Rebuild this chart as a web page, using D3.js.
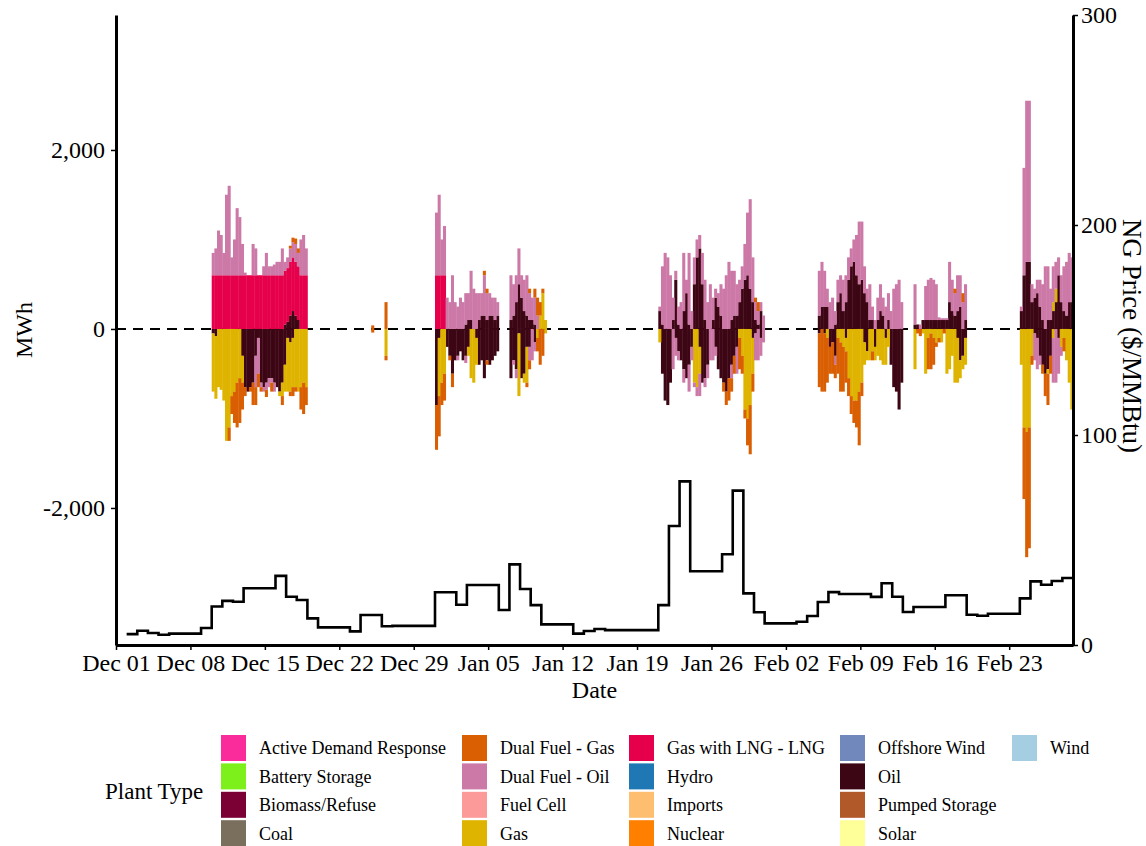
<!DOCTYPE html>
<html><head><meta charset="utf-8">
<script src="https://cdn.jsdelivr.net/npm/d3@7"></script>
<style>
body{margin:0;background:#fff}
svg{display:block}
text{font-family:"Liberation Serif","Times New Roman",serif;fill:#000}
</style>
</head><body>
<svg id="chart" width="1146" height="846"></svg>
<script>
// ---------------- DATA ----------------
// 6-hour bars; each series holds one sub-array per active block (order of blockStarts)
const blockStarts = ["2024-12-10","2024-12-25","2024-12-31","2025-01-21","2025-02-05","2025-02-14","2025-02-24"];
const blockLengths = [36, 6, 42, 40, 32, 20, 20];
const stepHours = 6;

const lngPos = [
  [600,600,600,600,600,600, 600,600,600,600,600,600, 600,600,600,600,600,600, 600,600,600,600,600,600, 600,600,600,600,600,600, 600,600,600,600,600,600],
  [],
  [600,600,600,600],
  [], [], [], []
];
const oilPos = [
  [0,0,0,0,0,0,0,0,0,0,0,0,0,0,0,0,0,0,0,0,0,0,0,0,0,0,0,50,80,150,200,150,100,0,0,0],
  [],
  [0,0,0,0,0,0,0,0,0,0,0,50,100,100,0,0,100,150,150,100,150,150,100,150,0,0,0,0,100,150,300,500,350,200,150,100,100,50,0,0,0,0],
  [200,50,0,0,0,100,550,50,0,200,400,50,0,500,800,900,500,100,0,0,100,350,250,150,0,0,0,100,150,150,300,450,550,600,450,300,100,50,200,0],
  [150,250,250,250,0,0,50,300,400,200,300,550,700,750,600,500,550,400,300,100,100,0,100,200,150,0,100,0,0,0,0,0],
  [50,50,0,100,100,100,100,100,100,100,100,100,100,300,200,150,200,250,0,100],
  [200,600,750,750,300,350,400,250,100,0,100,100,200,300,600,300,200,150,300,300]
];
const gasPos = [
  [], [],
  [0,0,0,0,0,0,0,0,0,0,0,0,0,0,0,0,0,0,0,0,0,0,0,0,0,0,0,0,0,0,0,0,0,0,0,0,0,0,0,150,400,100],
  [], [], [],
  [0,0,0,0,0,0,0,0,0,0,0,0,100,150]
];
const dfoPos = [
  [250,300,500,450,250,900,1000,200,400,750,650,350,30,0,0,350,300,0,0,100,250,100,100,120,150,150,300,100,120,150,170,200,150,400,450,300],
  [],
  [700,900,400,550,350,300,600,300,250,350,300,350,300,550,450,400,300,250,450,300,250,200,250,150,0,0,0,0,500,350,300,400,250,350,450,300,250,300,150,0,0,0],
  [50,650,850,800,600,250,100,200,300,650,150,800,200,300,200,150,350,450,300,500,250,100,150,350,450,600,750,550,500,350,250,250,400,700,1000,500,200,150,100,150],
  [500,500,400,200,300,350,150,250,200,350,300,250,200,250,450,700,650,300,150,400,150,100,250,300,200,250,300,200,450,500,550,300],
  [450,0,50,0,380,450,470,450,400,30,20,20,20,450,350,250,400,350,300,400],
  [50,1200,1800,1800,200,100,150,300,400,700,600,350,400,300,200,300,500,600,550,500]
];
const dfgPos = [
  [0,0,0,0,0,0,0,0,0,0,0,0,0,0,0,0,0,0,0,0,0,0,0,0,0,0,0,0,0,30,50,60,50,0,0,0],
  [40,0,0,0,0,300],
  [0,0,0,0,0,0,0,0,0,0,0,0,0,0,0,0,0,0,50,50,0,0,0,0,0,0,0,0,0,0,0,0,0,0,0,50,0,100,200,150,50,0],
  [0,0,0,0,0,0,0,0,0,0,0,0,0,0,0,0,0,0,0,0,0,0,0,0,0,0,0,0,0,0,0,0,0,0,0,0,50,100,0,0],
  [],
  [0,0,0,0,0,0,0,0,0,0,0,0,0,0,0,50,0,0,100,0],
  []
];
const oilNeg = [
  [-50,-80,0,0,0,0,0,0,0,0,0,-300,-650,-700,-650,-600,-300,-100,-600,-650,-600,-550,-550,-600,-650,-700,-600,-400,-100,-150,-100,0,0,0,0,0],
  [],
  [-850,-100,0,0,-200,-300,-500,-350,-300,-250,-350,-300,-200,0,0,-100,-400,-350,-550,-350,-400,-350,-300,-250,0,0,0,0,-550,-350,-450,-50,-550,-500,-200,-200,0,-150,0,0,0,0],
  [0,-500,-800,-850,-600,0,-100,-250,-350,-450,-550,-400,-200,0,0,-200,-600,-550,-400,0,0,-200,-450,-550,-600,-700,-550,-400,-300,-200,0,0,0,0,0,-100,-50,0,-100,0],
  [-50,0,-50,0,-200,-150,-300,0,0,0,-100,0,0,0,0,0,0,-150,-250,0,0,-200,0,0,0,-100,0,-400,-650,-700,-900,-600],
  [0,0,0,0,0,0,0,0,0,0,0,0,0,0,0,0,-100,-350,-300,-100],
  [0,0,0,0,0,-50,-100,-300,-400,-500,-450,-300,0,0,-100,0,0,0,0,0]
];
const gasNeg = [
  [-650,-700,-650,-680,-800,-1250,-1100,-750,-700,-600,-550,-300,0,0,0,0,0,0,0,0,0,0,0,0,0,-50,-150,-300,-600,-550,-550,-650,-700,-650,-600,-650],
  [0,0,0,0,0,-300],
  [0,-650,-600,-500,0,0,0,0,0,0,0,0,-100,-550,-600,-300,0,0,0,0,0,0,0,0,0,0,0,0,0,0,0,-700,0,-100,-400,0,0,0,-100,0,0,-50],
  [-150,0,0,0,0,0,0,0,0,0,0,0,0,-600,-650,-300,0,0,0,0,0,0,0,0,0,0,0,0,0,0,-100,-300,-900,-1000,-850,-400,0,0,0,0],
  [0,0,0,-100,0,0,0,-100,-150,-200,-150,-550,-750,-800,-800,-700,-600,-250,-100,-350,-250,-150,-300,-350,-400,-300,-200,0,0,0,0,0],
  [-450,0,0,-50,-500,-100,-50,-100,-150,-100,-150,0,-500,-450,-300,-600,-500,-200,-150,-300],
  [-400,-1100,-1150,-1100,-300,0,0,0,0,0,-50,0,-100,0,0,-200,-100,-350,-600,-900]
];
const dfoNeg = [
  [0,0,0,0,0,0,0,0,0,0,0,0,0,0,0,0,-350,-400,-50,-50,-80,-100,-50,-100,0,0,0,0,0,0,0,0,0,0,0,0],
  [],
  [0,0,0,0,0,0,0,0,-50,0,0,-80,0,0,0,0,0,0,0,0,0,0,0,0,0,0,0,0,0,-50,-100,0,0,0,0,-150,-350,-100,0,0,0,0],
  [0,0,0,0,0,-450,-200,-100,0,-150,0,-300,-150,-50,-100,-250,0,-100,-150,-350,-350,-100,0,0,0,0,0,-150,0,-300,0,0,0,0,0,0,-300,-350,-200,-150],
  [0,0,0,0,0,0,-100],
  [],
  [0,0,0,0,0,-300,-350,-100,0,0,0,0,-500,-600,-400,-100,0,0,0,0]
];
const dfgNeg = [
  [0,0,0,0,0,0,-150,-200,-350,-500,-500,-300,-100,0,-50,-250,-200,-150,-50,0,-80,0,-100,0,0,0,-100,0,0,-50,-100,-50,0,-250,-350,-200],
  [-40,0,0,0,0,-50],
  [-500,-450,-250,-300,0,-50,-150,0,0,0,0,0,0,0,0,0,0,0,0,-50,0,0,0,0,0,0,0,0,0,0,0,0,0,0,-50,-100,0,0,-150,-400,-300,0],
  [0,0,0,0,0,0,0,0,0,0,0,0,0,0,0,0,0,0,0,0,0,0,0,0,-100,-150,-250,-150,-200,0,-350,-200,-100,-300,-550,-200,0,0,0,0],
  [-600,-700,-650,-500,-300,-350,-150,-400,-550,-500,-350,-200,-200,-250,-300,-600,-150,0,0,0,-100],
  [0,-50,-80,0,0,-350,-400,-300,-50,-50,0,-50],
  [0,-800,-1400,-1350,-100,0,0,0,-100,-250,-350,-200,0,0,0,0,-150,0,0,0]
];

// daily NG price ($/MMBtu), starting 2024-12-02
const priceStart = "2024-12-02";
const priceValues = [
  5.2,6.8,5.7,4.9,5.4,5.4,5.4,
  8.1,18.3,21.0,20.6,27.0,27.0,27.0,
  32.9,23.0,21.4,12.7,8.4,8.4,8.4,
  6.5,14.3,14.3,8.9,9.1,9.1,9.1,
  9.1,25.1,25.1,19.2,28.6,28.6,28.6,
  16.7,38.4,26.7,19.0,9.8,9.8,9.8,
  5.4,6.7,7.6,7.1,7.1,7.1,7.1,
  7.1,19.0,56.7,77.9,35.1,35.1,35.1,
  43.2,73.5,24.6,15.6,10.3,10.3,10.3,
  11.1,13.8,20.5,25.2,24.3,24.3,24.3,
  22.9,29.4,23.0,15.7,18.1,18.1,18.1,
  23.7,23.7,14.4,13.9,14.9,14.9,14.9,
  22.2,30.3,28.7,30.5,31.9
];

const weekTicks = ["2024-12-01","2024-12-08","2024-12-15","2024-12-22","2024-12-29","2025-01-05","2025-01-12","2025-01-19","2025-01-26","2025-02-02","2025-02-09","2025-02-16","2025-02-23"];
const mwhTicks = [-2000, 0, 2000];
const priceTicks = [0, 100, 200, 300];

const legendNames = ["Active Demand Response","Battery Storage","Biomass/Refuse","Coal",
  "Dual Fuel - Gas","Dual Fuel - Oil","Fuel Cell","Gas",
  "Gas with LNG - LNG","Hydro","Imports","Nuclear",
  "Offshore Wind","Oil","Pumped Storage","Solar","Wind"];
const legendColors = ["#fa2c9c","#7def1b","#7b0034","#7a6e5c",
  "#d95f02","#cc79a7","#fb9a99","#deb400",
  "#e6004c","#1f78b4","#fdbf6f","#ff7f00",
  "#7088bb","#3d0614","#b15928","#ffff99","#a6cee3"];

// series -> stacking (diverging: positives from 0 up, negatives from 0 down, in this order)
const seriesDefs = [
  {key:"oilPos", arr:oilPos, name:"Oil"},
  {key:"oilNeg", arr:oilNeg, name:"Oil"},
  {key:"lngPos", arr:lngPos, name:"Gas with LNG - LNG"},
  {key:"gasPos", arr:gasPos, name:"Gas"},
  {key:"gasNeg", arr:gasNeg, name:"Gas"},
  {key:"dfoPos", arr:dfoPos, name:"Dual Fuel - Oil"},
  {key:"dfoNeg", arr:dfoNeg, name:"Dual Fuel - Oil"},
  {key:"dfgPos", arr:dfgPos, name:"Dual Fuel - Gas"},
  {key:"dfgNeg", arr:dfgNeg, name:"Dual Fuel - Gas"}
];

// ---------------- CHART ----------------
const svg = d3.select("#chart");
const P = {left:116, right:1073, top:15, bottom:645};
const parse = d3.utcParse("%Y-%m-%d");
const H6 = stepHours*3600e3;

const x = d3.scaleUtc().domain([parse("2024-12-01"), parse("2025-03-01")]).range([P.left, P.right]);
const y = d3.scaleLinear().domain([-3531, 3508]).range([P.bottom, P.top]);
const y2 = d3.scaleLinear().domain([0, 300]).range([P.bottom, P.top]);
const colorOf = d3.scaleOrdinal().domain(legendNames).range(legendColors);

// rows
const rows = [];
blockStarts.forEach((s, b) => {
  const t0 = parse(s).getTime();
  for (let i = 0; i < blockLengths[b]; i++) {
    const r = {t: new Date(t0 + i*H6)};
    seriesDefs.forEach(sd => { r[sd.key] = (sd.arr[b] && sd.arr[b][i]) || 0; });
    rows.push(r);
  }
});
const stacked = d3.stack().keys(seriesDefs.map(d=>d.key)).offset(d3.stackOffsetDiverging)(rows);

// zero line
svg.append("line").attr("x1",P.left).attr("x2",P.right).attr("y1",y(0)).attr("y2",y(0))
  .attr("stroke","#000").attr("stroke-width",2).attr("stroke-dasharray","10,7");

// bars
const gBars = svg.append("g");
stacked.forEach((layer, li) => {
  const col = colorOf(seriesDefs[li].name);
  gBars.append("g").attr("fill", col).selectAll("rect")
    .data(layer.filter(d => d[0] !== d[1]))
    .join("rect")
    .attr("x", d => x(d.data.t))
    .attr("width", d => x(new Date(d.data.t.getTime()+H6)) - x(d.data.t) + 0.4)
    .attr("y", d => y(Math.max(d[0], d[1])))
    .attr("height", d => Math.abs(y(d[0]) - y(d[1])));
});

// price step line
const p0 = parse(priceStart).getTime();
const pricePts = priceValues.map((v,i) => ({t:new Date(p0 + i*864e5), v}));
pricePts.push({t:new Date(p0 + priceValues.length*864e5), v: priceValues[priceValues.length-1]});
svg.append("path").datum(pricePts)
  .attr("fill","none").attr("stroke","#000").attr("stroke-width",2.6)
  .attr("d", d3.line().x(d=>x(d.t)).y(d=>y2(d.v)).curve(d3.curveStepAfter));

// axes
function styleAxis(g){
  g.select(".domain").attr("stroke","#000").attr("stroke-width",3);
  g.selectAll(".tick line").attr("stroke","#000").attr("stroke-width",1.5);
  g.selectAll(".tick text").attr("font-size","24px").attr("fill","#000")
    .attr("font-family",'"Liberation Serif","Times New Roman",serif');
}
svg.append("g").attr("transform",`translate(0,${P.bottom})`)
  .call(d3.axisBottom(x).tickValues(weekTicks.map(parse)).tickFormat(d3.utcFormat("%b %d"))
    .tickSize(5).tickSizeOuter(0).tickPadding(4))
  .call(styleAxis);
svg.append("g").attr("transform",`translate(${P.left},0)`)
  .call(d3.axisLeft(y).tickValues(mwhTicks).tickFormat(d => d3.format(",")(d).replace("\u2212","-"))
    .tickSize(5).tickSizeOuter(0).tickPadding(6))
  .call(styleAxis);
svg.append("g").attr("transform",`translate(${P.right},0)`)
  .call(d3.axisRight(y2).tickValues(priceTicks).tickSize(5).tickSizeOuter(0).tickPadding(3))
  .call(styleAxis);

// axis titles
svg.append("text").attr("x",(P.left+P.right)/2).attr("y",698).attr("text-anchor","middle")
  .attr("font-size","24px").text("Date");
svg.append("text").attr("transform",`translate(32,${(P.top+P.bottom)/2}) rotate(-90)`)
  .attr("text-anchor","middle").attr("font-size","24px").text("MWh");
svg.append("text").attr("transform",`translate(1123,336) rotate(90)`)
  .attr("text-anchor","middle").attr("font-size","27px").text("NG Price ($/MMBtu)");

// legend
const legCols = [221, 462, 629, 840, 1012];
const legRowTop = 735, legPitch = 28.4, keyW = 25, keyH = 26;
svg.append("text").attr("x",105).attr("y",799).attr("font-size","23px").text("Plant Type");
const gLeg = svg.append("g");
legendNames.forEach((n, i) => {
  const c = Math.floor(i/4), r = i % 4;
  const kx = legCols[c], ky = legRowTop + r*legPitch;
  gLeg.append("rect").attr("x",kx).attr("y",ky).attr("width",keyW).attr("height",keyH).attr("fill",colorOf(n));
  gLeg.append("text").attr("x",kx+keyW+13).attr("y",ky+keyH/2).attr("dy","0.35em")
    .attr("font-size","18px").text(n);
});
</script>
</body></html>
